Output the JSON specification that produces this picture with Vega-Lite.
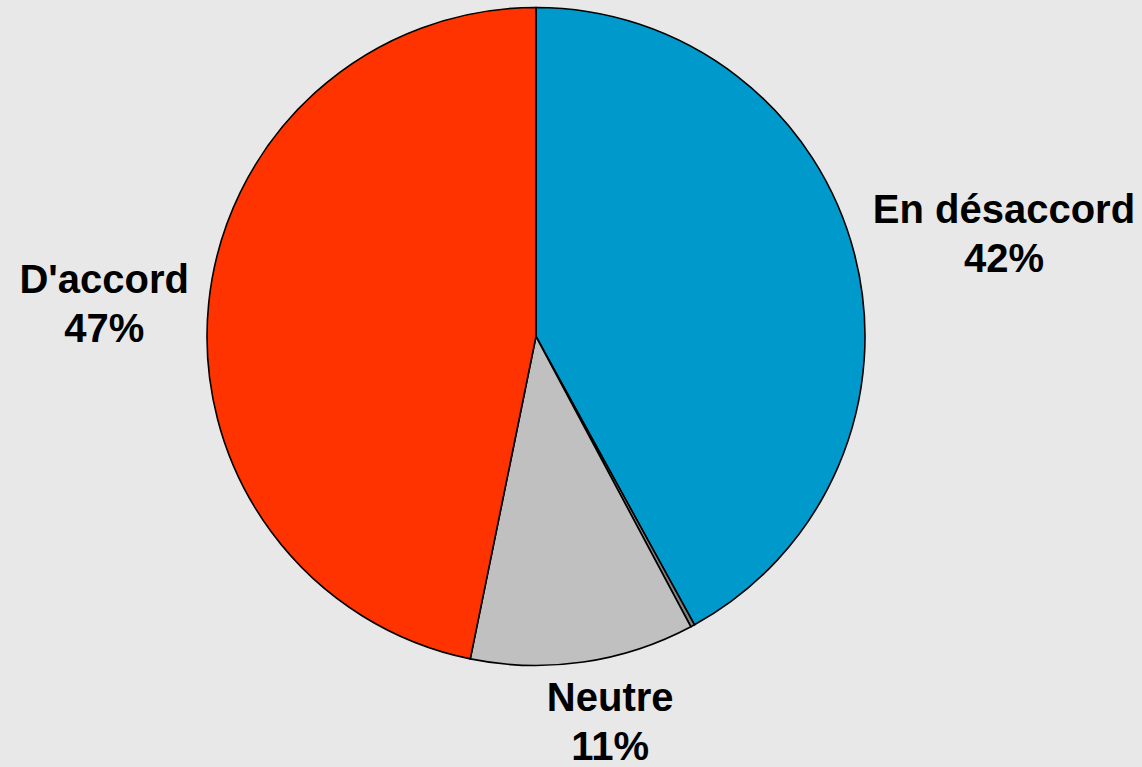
{
  "$schema": "https://vega.github.io/schema/vega-lite/v6.json",
  "width": 1072,
  "height": 673,
  "autosize": {"type": "none"},
  "padding": {"left": 0, "top": 0, "right": 70, "bottom": 94},
  "background": "#e8e8e8",
  "view": {"stroke": null},
  "data": {
    "values": [
      {"categorie": "En désaccord", "pct": 42, "ordre": 1, "etiquette": "En désaccord\n42%"},
      {"categorie": "Sans réponse", "pct": 0.2, "ordre": 2, "etiquette": ""},
      {"categorie": "Neutre", "pct": 11, "ordre": 3, "etiquette": "Neutre\n11%"},
      {"categorie": "D'accord", "pct": 46.8, "ordre": 4, "etiquette": "D'accord\n47%"}
    ]
  },
  "encoding": {
    "theta": {"field": "pct", "type": "quantitative", "stack": true},
    "order": {"field": "ordre", "type": "quantitative"}
  },
  "layer": [
    {
      "mark": {"type": "arc", "outerRadius": 329, "stroke": "#000000", "strokeWidth": 1.6},
      "encoding": {
        "color": {
          "field": "categorie",
          "type": "nominal",
          "scale": {
            "domain": ["En désaccord", "Sans réponse", "Neutre", "D'accord"],
            "range": ["#0099CC", "#808080", "#C0C0C0", "#FF3300"]
          },
          "legend": null
        }
      }
    },
    {
      "mark": {"type": "text", "radius": 480, "dx": 3, "dy": -6, "font": "Liberation Sans", "fontWeight": "bold", "fontSize": 40, "lineBreak": "\n", "lineHeight": 49, "align": "center", "baseline": "middle", "color": "#000000"},
      "encoding": {"text": {"condition": {"test": "datum.categorie === 'En désaccord'", "field": "etiquette"}, "value": ""}}
    },
    {
      "mark": {"type": "text", "radius": 390, "dx": 18, "dy": -23, "font": "Liberation Sans", "fontWeight": "bold", "fontSize": 40, "lineBreak": "\n", "lineHeight": 49, "align": "center", "baseline": "middle", "color": "#000000"},
      "encoding": {"text": {"condition": {"test": "datum.categorie === 'Neutre'", "field": "etiquette"}, "value": ""}}
    },
    {
      "mark": {"type": "text", "radius": 432, "dx": -2, "dy": -12, "font": "Liberation Sans", "fontWeight": "bold", "fontSize": 40, "lineBreak": "\n", "lineHeight": 49, "align": "center", "baseline": "middle", "color": "#000000"},
      "encoding": {"text": {"condition": {"test": "datum.categorie === \"D'accord\"", "field": "etiquette"}, "value": ""}}
    }
  ]
}
